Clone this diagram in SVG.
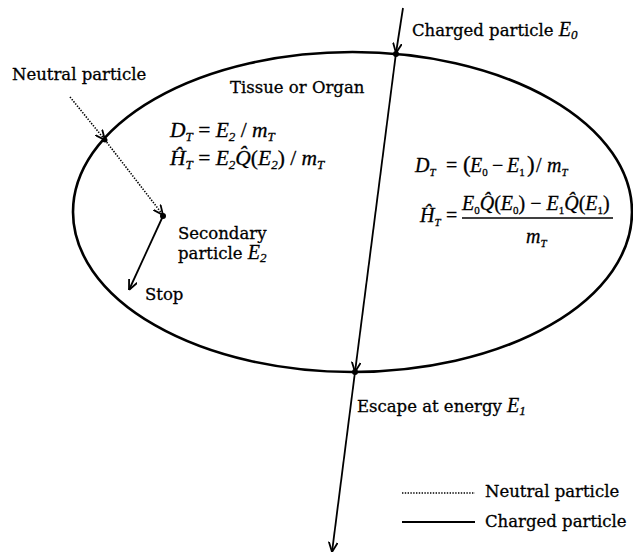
<svg xmlns="http://www.w3.org/2000/svg" width="633" height="557" viewBox="0 0 633 557">
<style>
.lbl{font-family:"DejaVu Serif","Liberation Serif",serif;font-size:16.5px;fill:#000;stroke:#000;stroke-width:0.3}
.m{font-family:"Liberation Serif","Times New Roman",serif;font-style:italic;font-size:20px;fill:#000;stroke:#000;stroke-width:0.3}
.ml{font-size:21.5px}
.up{font-style:normal}
.sub{font-size:13px}
.tiny{font-size:11px}
.ln{stroke:#000;stroke-width:1.8;fill:none}
.dot{stroke:#000;stroke-width:1.6;stroke-dasharray:1.4 1.4;fill:none}
</style>
<defs>
<marker id="ah" viewBox="0 0 10 10" refX="10" refY="5" markerWidth="10" markerHeight="10" markerUnits="userSpaceOnUse" orient="auto">
<path d="M0,0.5 L10,5 L0,9.5" fill="none" stroke="#000" stroke-width="1.8"/>
</marker>
</defs>
<rect width="633" height="557" fill="#fff"/>
<g id="tissue">
<ellipse cx="352.5" cy="212" rx="279.5" ry="160" fill="none" stroke="#000" stroke-width="2.6"/>
<text class="lbl" x="230" y="93">Tissue or Organ</text>
</g>
<g id="connectors">
<path class="ln" d="M403,8 L396,53" marker-end="url(#ah)"/>
<path class="ln" d="M396,53 L355,372" marker-end="url(#ah)"/>
<path class="ln" d="M355,372 L332,552" marker-end="url(#ah)"/>
<circle cx="396" cy="54" r="3"/>
<circle cx="355" cy="372" r="3"/>
<path class="dot" d="M70,97 L105,140" marker-end="url(#ah)"/>
<path class="dot" d="M105,140 L163,215" marker-end="url(#ah)"/>
<circle cx="105" cy="140" r="2.5"/>
<circle cx="163" cy="216" r="3"/>
<path class="ln" d="M163,216 L129,290" marker-end="url(#ah)"/>
</g>
<g id="charged-label">
<text class="lbl" x="412" y="36">Charged particle <tspan class="m">E</tspan><tspan class="m sub" dy="3">0</tspan></text>
</g>
<g id="neutral-label">
<text class="lbl" x="12" y="80">Neutral particle</text>
</g>
<g id="left-eq">
<text class="m ml" x="170" y="137">D<tspan class="sub" dy="4">T</tspan><tspan class="up" dy="-4"> = </tspan>E<tspan class="sub" dy="4">2</tspan><tspan class="up" dy="-4"> / </tspan>m<tspan class="sub" dy="4">T</tspan></text>
<text class="m ml" x="170" y="165">Ĥ<tspan class="sub" dy="4">T</tspan><tspan class="up" dy="-4"> = </tspan>E<tspan class="sub" dy="4">2</tspan><tspan dy="-4">Q̂</tspan><tspan class="up">(</tspan>E<tspan class="sub" dy="4">2</tspan><tspan class="up" dy="-4">) / </tspan>m<tspan class="sub" dy="4">T</tspan></text>
</g>
<g id="right-eq">
<text class="m" x="415" y="172">D<tspan class="tiny" dy="4">T</tspan><tspan class="up" x="446" dy="-4">=</tspan><tspan class="up" x="463" font-size="23">(</tspan><tspan x="470">E</tspan><tspan class="tiny up" dy="4">0</tspan><tspan class="up" x="492" dy="-4">−</tspan><tspan x="507">E</tspan><tspan class="tiny up" dy="4">1</tspan><tspan class="up" x="527" dy="-4" font-size="23">)</tspan><tspan class="up" x="536">/</tspan><tspan x="547">m</tspan><tspan class="tiny" dy="4">T</tspan></text>
<text class="m" x="420" y="222">Ĥ<tspan class="tiny" dy="4">T</tspan><tspan class="up" x="446" dy="-4">=</tspan></text>
<text class="m" x="462" y="210">E<tspan class="tiny up" dy="4">0</tspan><tspan dy="-4">Q̂</tspan><tspan class="up">(</tspan>E<tspan class="tiny up" dy="4">0</tspan><tspan class="up" dy="-4">) − </tspan>E<tspan class="tiny up" dy="4">1</tspan><tspan dy="-4">Q̂</tspan><tspan class="up">(</tspan>E<tspan class="tiny up" dy="4">1</tspan><tspan class="up" dy="-4">)</tspan></text>
<line x1="462" y1="218" x2="613" y2="218" stroke="#000" stroke-width="1.3"/>
<text class="m" x="526" y="243">m<tspan class="tiny" dy="4">T</tspan></text>
</g>
<g id="secondary">
<text class="lbl" x="178" y="239">Secondary</text>
<text class="lbl" x="178" y="259">particle <tspan class="m">E</tspan><tspan class="m sub" dy="3">2</tspan></text>
</g>
<g id="stop">
<text class="lbl" x="145" y="300">Stop</text>
</g>
<g id="escape">
<text class="lbl" x="357" y="412">Escape at energy <tspan class="m">E</tspan><tspan class="m sub" dy="3">1</tspan></text>
</g>
<g id="legend">
<line class="dot" x1="402" y1="493" x2="475" y2="493"/>
<text class="lbl" x="485" y="497">Neutral particle</text>
<line class="ln" x1="402" y1="522" x2="475" y2="522"/>
<text class="lbl" x="485" y="527">Charged particle</text>
</g>
</svg>
